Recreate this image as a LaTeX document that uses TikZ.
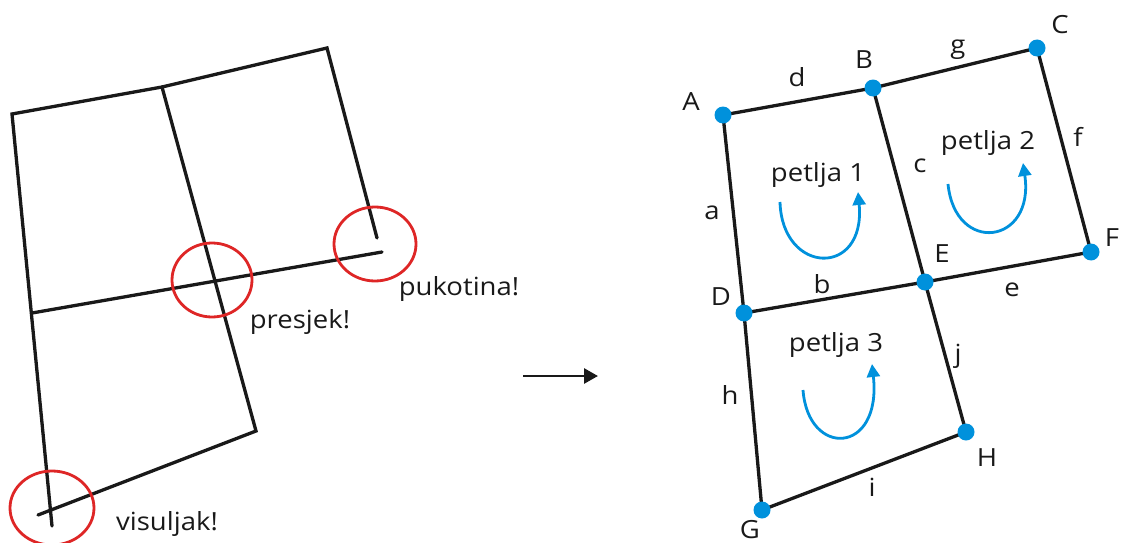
\documentclass[tikz,border=0pt]{standalone}
\usepackage{fontspec}
\usepackage{graphicx}
\setmainfont{Open Sans}
\usetikzlibrary{arrows.meta}
\definecolor{dotblue}{RGB}{0,145,220}
\definecolor{ringred}{RGB}{222,38,38}
\newcommand{\wtext}[1]{\scalebox{1.1}[1]{#1}}
\begin{document}
\begin{tikzpicture}[x=1pt,y=-1pt,
  edge/.style={line width=3.3pt,black!90,line cap=round},
  ring/.style={line width=2.8pt,draw=ringred},
  dotnode/.style={circle,fill=dotblue,inner sep=0pt,minimum size=17pt},
  loop/.style={line width=2.8pt,draw=dotblue,-{Triangle[length=13pt,width=13pt]}},
  lbl/.style={font=\fontsize{25}{29}\selectfont,inner sep=0pt,text=black!90},
  ]
\useasboundingbox (0,0) rectangle (1121,543);
% ---------- left sketch ----------
\coordinate (p1) at (12,114);
\coordinate (p2) at (162,87);
\coordinate (p3) at (327,48);
\coordinate (p4) at (377,238);
\coordinate (p5) at (52,526);
\coordinate (p6) at (32,313);
\coordinate (p7) at (382,252);
\coordinate (p8) at (256,431);
\coordinate (p9) at (38,515);
\draw[edge] (p5) -- (p1) -- (p2) -- (p3) -- (p4);
\draw[edge] (p2) -- (p8) -- (p9);
\draw[edge] (p6) -- (p7);
\draw[ring] (212,280) ellipse [x radius=40, y radius=37];
\draw[ring] (375,244) ellipse [x radius=41, y radius=37];
\draw[ring] (52,508) ellipse [x radius=42, y radius=37];
\node[lbl] (t1) at (300,322) {\wtext{presjek!}};
\node[lbl] (t2) at (459,289) {\wtext{pukotina!}};
\node[lbl] (t3) at (167,524) {\wtext{visuljak!}};
% ---------- arrow ----------
\coordinate (ar1) at (523,376);
\coordinate (ar2) at (598,376);
\draw[line width=2.8pt,black!90,-{Triangle[length=14pt,width=15pt]}] (ar1) -- (ar2);
% ---------- right graph ----------
\coordinate (A) at (723,115);
\coordinate (B) at (873,88);
\coordinate (C) at (1037,48);
\coordinate (D) at (744,313);
\coordinate (E) at (925,282);
\coordinate (F) at (1091,252);
\coordinate (G) at (762,510);
\coordinate (H) at (966,432);
\draw[edge] (A) -- (B) -- (C) -- (F) -- (E) -- (D) -- (A);
\draw[edge] (B) -- (E) -- (H) -- (G) -- (D);
\foreach \n in {A,B,C,D,E,F,G,H} \node[dotnode] (dot\n) at (\n) {};
\node[lbl] (lA) at (691,102) {\wtext{A}};
\node[lbl] (lB) at (864,60) {\wtext{B}};
\node[lbl] (lC) at (1060,25) {\wtext{C}};
\node[lbl] (lD) at (721,297) {\wtext{D}};
\node[lbl] (lE) at (942,254) {\wtext{E}};
\node[lbl] (lF) at (1112,238) {\wtext{F}};
\node[lbl] (lG) at (750,530) {\wtext{G}};
\node[lbl] (lH) at (987,458) {\wtext{H}};
\node[lbl] (ld) at (797,77) {\wtext{d}};
\node[lbl] (lg) at (958,50) {\wtext{g}};
\node[lbl] (la) at (712,213) {\wtext{a}};
\node[lbl] (lc) at (920,166) {\wtext{c}};
\node[lbl] (lf) at (1078,137) {\wtext{f}};
\node[lbl] (lb) at (822,284) {\wtext{b}};
\node[lbl] (le) at (1012,290) {\wtext{e}};
\node[lbl] (lj) at (958,356) {\wtext{j}};
\node[lbl] (lh) at (730,395) {\wtext{h}};
\node[lbl] (li) at (872,487) {\wtext{i}};
\node[lbl] (pt1) at (818,175) {\wtext{petlja 1}};
\node[lbl] (pt2) at (988,143) {\wtext{petlja 2}};
\node[lbl] (pt3) at (836,345) {\wtext{petlja 3}};
% loops
\coordinate (s1) at (780,202); \coordinate (e1) at (858,192);
\coordinate (s2) at (948,184); \coordinate (e2) at (1023,163);
\coordinate (s3) at (803,390); \coordinate (e3) at (872,364);
\draw[loop] (s1) .. controls (782,275) and (866,278) .. (e1);
\draw[loop] (s2) .. controls (955,255) and (1035,245) .. (e2);
\draw[loop] (s3) .. controls (808,458) and (882,455) .. (e3);
\end{tikzpicture}
\end{document}
